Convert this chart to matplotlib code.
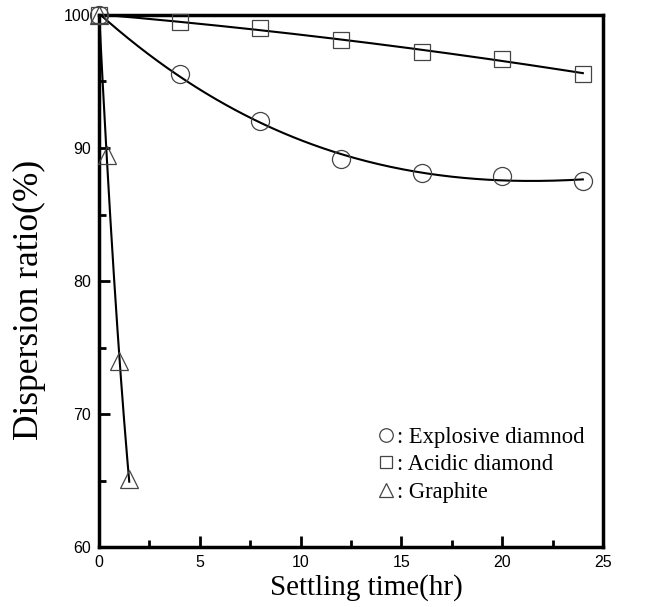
import numpy as np
import matplotlib.pyplot as plt
from matplotlib.ticker import MultipleLocator

# settling test data (hr, %)
t_exp = [0, 4, 8, 12, 16, 20, 24]
r_exp = [100, 95.6, 92.0, 89.2, 88.1, 87.9, 87.5]

t_acid = [0, 4, 8, 12, 16, 20, 24]
r_acid = [100, 99.5, 99.0, 98.1, 97.2, 96.7, 95.6]

t_gra = [0, 0.4, 1.0, 1.5]
r_gra = [100, 89.5, 74.0, 65.1]

labels = [': Explosive diamnod', ': Acidic diamond', ': Graphite']

def fitcurve(x, y, deg, n=200):
    c = np.polyfit(x, y, deg)
    xs = np.linspace(min(x), max(x), n)
    return xs, np.polyval(c, xs)

fig = plt.figure(figsize=(6.57, 6.07), dpi=100)
ax = fig.add_axes([0.1507, 0.0988, 0.7671, 0.8765])

mk = dict(linestyle='none', markerfacecolor='none', markeredgecolor='#444444',
          markeredgewidth=0.9, zorder=3, clip_on=False)
h1, = ax.plot(t_exp, r_exp, 'o', markersize=13, **mk)
h2, = ax.plot(t_acid, r_acid, 's', markersize=11.5, **mk)
h3, = ax.plot(t_gra, r_gra, '^', markersize=13, **mk)

for x, y, d in [(t_exp, r_exp, 3), (t_acid, r_acid, 2), (t_gra, r_gra, 2)]:
    xs, ys = fitcurve(x, y, d)
    ax.plot(xs, ys, 'k-', linewidth=1.5, zorder=2)

ax.set_xlim(0, 25)
ax.set_ylim(60, 100)
ax.xaxis.set_major_locator(MultipleLocator(5))
ax.xaxis.set_minor_locator(MultipleLocator(2.5))
ax.yaxis.set_major_locator(MultipleLocator(10))
ax.yaxis.set_minor_locator(MultipleLocator(5))
ax.tick_params(which='both', direction='in', width=2, labelsize=11.5,
               pad=6)
ax.tick_params(which='major', length=8)
ax.tick_params(which='minor', length=5)
for lab in ax.get_xticklabels() + ax.get_yticklabels():
    lab.set_family('Liberation Sans')
for s in ax.spines.values():
    s.set_linewidth(2.5)

ax.set_xlabel('Settling time(hr)', family='Liberation Serif', fontsize=21)
ax.set_ylabel('Dispersion ratio(%)', family='Liberation Serif', fontsize=25.5)
ax.xaxis.set_label_coords(0.53, -0.05)
ax.yaxis.set_label_coords(-0.106, 0.465)

leg = ax.legend([h1, h2, h3], labels, loc='upper left', bbox_to_anchor=(0.514, 0.264),
                frameon=False, handlelength=0.7, handletextpad=0.1, labelspacing=0.28,
                markerscale=0.75, prop={'family': 'Liberation Serif', 'size': 16.3})

fig.savefig('out.png', dpi=100)
